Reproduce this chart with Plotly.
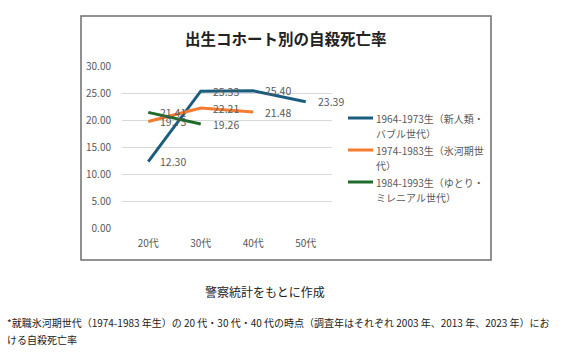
import plotly.graph_objects as go

categories = ["20代", "30代", "40代", "50代"]
series_names = [
    ["1964-1973生（新人類・", "バブル世代）"],
    ["1974-1983生（氷河期世", "代）"],
    ["1984-1993生（ゆとり・", "ミレニアル世代）"],
]
blue_vals = [12.30, 25.33, 25.40, 23.39]
orange_vals = [19.73, 22.21, 21.48]
green_vals = [21.41, 19.26]
colors = ["#1B5D7E", "#F47B30", "#1E6B2B"]
y_ticks = [0, 5, 10, 15, 20, 25, 30]

FONT = "Noto Sans CJK JP"
GRAY = "#595959"

L, R, T, B = 122, 332, 66, 228
W, H = 565, 354
pw, ph = R - L, B - T


def px(xp):
    return (xp - L) / pw


def py(yp):
    return (B - yp) / ph


fig = go.Figure()
all_vals = [blue_vals, orange_vals, green_vals]
for name, vals, col in zip(series_names, all_vals, colors):
    fig.add_trace(go.Scatter(
        x=categories[:len(vals)], y=vals, mode="lines", name="".join(name),
        line=dict(color=col, width=3), showlegend=False,
    ))

annotations = []
for vals in all_vals:
    for c, v in zip(categories, vals):
        annotations.append(dict(
            x=c, y=v, xref="x", yref="y", text=f"{v:.2f}", showarrow=False,
            xanchor="left", yanchor="middle", xshift=10,
            font=dict(family=FONT, size=10.5, color=GRAY),
        ))

shapes = [dict(type="rect", xref="paper", yref="paper",
               x0=px(81), x1=px(491), y0=py(260), y1=py(16),
               line=dict(color="#6E6E6E", width=1.5), layer="below")]

# legend (manual, to match wrapped text spacing)
leg_top = 118
entry_gap = 32
line_gap = 15.5
for i, (name, col) in enumerate(zip(series_names, colors)):
    y0 = leg_top + i * entry_gap
    shapes.append(dict(type="line", xref="paper", yref="paper",
                       x0=px(348), x1=px(373), y0=py(y0), y1=py(y0),
                       line=dict(color=col, width=3)))
    for j, part in enumerate(name):
        annotations.append(dict(
            x=px(374), y=py(y0 + j * line_gap), xref="paper", yref="paper",
            text=part, showarrow=False, xanchor="left", yanchor="middle",
            font=dict(family=FONT, size=10, color=GRAY)))

annotations += [
    dict(x=px(286), y=py(38), xref="paper", yref="paper", text="<b>出生コホート別の自殺死亡率</b>",
         showarrow=False, xanchor="center", yanchor="middle",
         font=dict(family=FONT, size=15.5, color="#222222")),
    dict(x=px(265), y=py(291), xref="paper", yref="paper", text="警察統計をもとに作成",
         showarrow=False, xanchor="center", yanchor="middle",
         font=dict(family=FONT, size=12, color="#222222")),
    dict(x=px(5), y=py(322), xref="paper", yref="paper",
         text="*就職氷河期世代（1974-1983 年生）の 20 代・30 代・40 代の時点（調査年はそれぞれ 2003 年、2013 年、2023 年）にお",
         showarrow=False, xanchor="left", yanchor="middle",
         font=dict(family=FONT, size=10, color="#222222")),
    dict(x=px(5), y=py(339), xref="paper", yref="paper", text="ける自殺死亡率",
         showarrow=False, xanchor="left", yanchor="middle",
         font=dict(family=FONT, size=10, color="#222222")),
]

fig.update_layout(
    width=W, height=H,
    margin=dict(l=L, r=W - R, t=T, b=H - B, pad=0),
    paper_bgcolor="white", plot_bgcolor="white",
    showlegend=False,
    xaxis=dict(type="category", categoryorder="array", categoryarray=categories,
               range=[-0.5, 3.5], showgrid=False, zeroline=False, showline=False,
               ticks="", ticklabelstandoff=8,
               tickfont=dict(family=FONT, size=10, color=GRAY)),
    yaxis=dict(range=[0, 30], tickvals=y_ticks, ticktext=[f"{t:.2f}" for t in y_ticks],
               showgrid=True, gridcolor="#D9D9D9", gridwidth=1, zeroline=False,
               showline=False, ticks="", ticklabelstandoff=10,
               tickfont=dict(family=FONT, size=10, color=GRAY)),
    annotations=annotations,
    shapes=shapes,
)

fig.write_html("out.html")
